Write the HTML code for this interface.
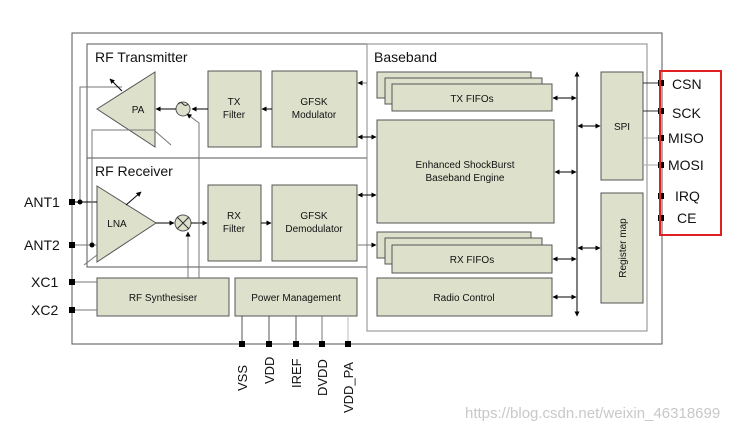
<!DOCTYPE html>
<html><head><meta charset="utf-8"><style>
body{margin:0;background:#fff}
svg{display:block}
text{font-family:"Liberation Sans",Arial,sans-serif;fill:#111}
</style></head><body>
<svg width="744" height="432" viewBox="0 0 744 432" xmlns="http://www.w3.org/2000/svg">
<defs>
<marker id="a" viewBox="0 0 10 10" refX="9" refY="5" markerWidth="5" markerHeight="5" orient="auto-start-reverse"><path d="M0,0L10,5L0,10z" fill="#000"/></marker>
</defs>
<rect width="744" height="432" fill="#fff"/>
<!-- outer -->
<rect x="72" y="33" width="590" height="311" fill="none" stroke="#555" stroke-width="1"/>
<rect x="87" y="44" width="280" height="114" fill="none" stroke="#555"/>
<rect x="87" y="158" width="280" height="109" fill="none" stroke="#555"/>
<rect x="367" y="44" width="280" height="287" fill="none" stroke="#888"/>
<text x="95" y="62" font-size="14">RF Transmitter</text>
<text x="95" y="176" font-size="14">RF Receiver</text>
<text x="374" y="62" font-size="14">Baseband</text>
<g fill="#dde1cc" stroke="#555">
<rect x="208" y="71" width="53" height="76"/>
<rect x="272" y="71" width="85" height="76"/>
<rect x="208" y="185" width="53" height="76"/>
<rect x="272" y="185" width="85" height="76"/>
<rect x="97" y="278" width="132" height="38"/>
<rect x="235" y="278" width="122" height="38"/>
<polygon points="97,109 155,72 155,147"/>
<polygon points="97,186 97,262 156,223"/>
<circle cx="183" cy="109" r="7"/>
<circle cx="183" cy="223" r="8"/>
<rect x="377" y="72" width="154" height="26"/>
<rect x="385" y="78" width="157" height="26"/>
<rect x="392" y="84" width="160" height="27"/>
<rect x="377" y="120" width="177" height="103"/>
<rect x="377" y="232" width="154" height="26"/>
<rect x="385" y="238" width="157" height="26"/>
<rect x="392" y="245" width="160" height="28"/>
<rect x="377" y="278" width="175" height="38"/>
<rect x="601" y="72" width="42" height="108"/>
<rect x="601" y="193" width="42" height="110"/>
</g>
<path d="M178,104 q2.5,-3 5,0 t5,0" fill="none" stroke="#333"/>
<path d="M177,217 L189,229 M189,217 L177,229" stroke="#333"/>
<g font-size="10" text-anchor="middle">
<text x="138" y="113">PA</text>
<text x="117" y="227">LNA</text>
<text x="234" y="105">TX</text><text x="234" y="118">Filter</text>
<text x="314" y="105">GFSK</text><text x="314" y="118">Modulator</text>
<text x="234" y="219">RX</text><text x="234" y="232">Filter</text>
<text x="314" y="219">GFSK</text><text x="314" y="232">Demodulator</text>
<text x="163" y="301">RF Synthesiser</text>
<text x="296" y="301">Power Management</text>
<text x="472" y="102">TX FIFOs</text>
<text x="465" y="168">Enhanced ShockBurst</text>
<text x="465" y="181">Baseband Engine</text>
<text x="472" y="263">RX FIFOs</text>
<text x="464" y="301">Radio Control</text>
<text x="622" y="130">SPI</text>
<text transform="translate(626,248) rotate(-90)">Register map</text>
</g>
<!-- signal arrows -->
<g stroke="#000" fill="none">
<line x1="208" y1="109" x2="192" y2="109" marker-end="url(#a)"/>
<line x1="272" y1="109" x2="262" y2="109" marker-end="url(#a)"/>
<line x1="176" y1="109" x2="156" y2="109" marker-end="url(#a)"/>
<line x1="156" y1="223" x2="174" y2="223" marker-end="url(#a)"/>
<line x1="191" y1="223" x2="207" y2="223" marker-end="url(#a)"/>
<line x1="261" y1="223" x2="271" y2="223" marker-end="url(#a)"/>
<line x1="367" y1="83" x2="358" y2="83" stroke="#777" marker-end="url(#a)"/>
<line x1="367" y1="137" x2="358" y2="137" marker-end="url(#a)"/>
<line x1="360" y1="137" x2="376" y2="137" marker-end="url(#a)"/>
<line x1="358" y1="195" x2="376" y2="195" marker-end="url(#a)" marker-start="url(#a)"/>
<line x1="358" y1="245" x2="376" y2="245" stroke="#777" marker-end="url(#a)"/>
<line x1="577" y1="72" x2="577" y2="316" marker-end="url(#a)" marker-start="url(#a)"/>
<line x1="553" y1="98" x2="576" y2="98" marker-end="url(#a)" marker-start="url(#a)"/>
<line x1="555" y1="172" x2="576" y2="172" marker-end="url(#a)" marker-start="url(#a)"/>
<line x1="553" y1="259" x2="576" y2="259" marker-end="url(#a)" marker-start="url(#a)"/>
<line x1="553" y1="297" x2="576" y2="297" marker-end="url(#a)" marker-start="url(#a)"/>
<line x1="578" y1="126" x2="600" y2="126" marker-end="url(#a)" marker-start="url(#a)"/>
<line x1="578" y1="248" x2="600" y2="248" marker-end="url(#a)" marker-start="url(#a)"/>
<!-- synth lines -->
<polyline points="188,278 188,232" stroke="#777" marker-end="url(#a)"/>
<polyline points="199,278 199,123 187,114" stroke="#777" marker-end="url(#a)"/>
<!-- antenna wiring -->
<line x1="72" y1="202" x2="97" y2="202"/>
<polyline points="80,202 80,87 122,87" stroke="#777"/>
<line x1="122" y1="91" x2="110" y2="79" marker-end="url(#a)"/>
<line x1="72" y1="245" x2="97" y2="245" stroke="#777"/>
<polyline points="92,245 92,130 155,130" stroke="#777"/>
<line x1="155" y1="131" x2="171" y2="145" stroke="#777"/>
<line x1="97" y1="255" x2="84" y2="265" stroke="#777"/>
<line x1="126" y1="205" x2="141" y2="192" marker-end="url(#a)"/>
<line x1="72" y1="282" x2="97" y2="282" stroke="#777"/>
<line x1="72" y1="310" x2="97" y2="310" stroke="#777"/>
<!-- pm pins -->
<line x1="242" y1="316" x2="242" y2="344" stroke="#555"/>
<line x1="269" y1="316" x2="269" y2="344" stroke="#555"/>
<line x1="296" y1="316" x2="296" y2="344" stroke="#555"/>
<line x1="322" y1="316" x2="322" y2="344" stroke="#777"/>
<line x1="348" y1="316" x2="348" y2="344" stroke="#bbb"/>
<!-- spi pins -->
<line x1="643" y1="83" x2="661" y2="83" stroke="#333"/>
<line x1="643" y1="111" x2="661" y2="111" stroke="#333"/>
<line x1="643" y1="138" x2="661" y2="138" stroke="#aaa"/>
<line x1="643" y1="165" x2="661" y2="165" stroke="#aaa"/>
</g>
<circle cx="80" cy="202" r="2.5" fill="#000"/>
<circle cx="92" cy="245" r="2.5" fill="#000"/>
<g fill="#000">
<rect x="69" y="199" width="6" height="6"/><rect x="69" y="242" width="6" height="6"/>
<rect x="69" y="279" width="6" height="6"/><rect x="69" y="307" width="6" height="6"/>
<rect x="239" y="341" width="6" height="6"/><rect x="266" y="341" width="6" height="6"/>
<rect x="293" y="341" width="6" height="6"/><rect x="319" y="341" width="6" height="6"/>
<rect x="345" y="341" width="6" height="6"/>
<rect x="658" y="80" width="6" height="6"/><rect x="658" y="108" width="6" height="6"/>
<rect x="658" y="135" width="6" height="6"/><rect x="658" y="162" width="6" height="6"/>
<rect x="658" y="193" width="6" height="6"/><rect x="658" y="215" width="6" height="6"/>
</g>
<rect x="660" y="71" width="61" height="164" fill="none" stroke="#e02020" stroke-width="2"/>
<g font-size="14">
<text x="24" y="207">ANT1</text><text x="24" y="250">ANT2</text>
<text x="31" y="287">XC1</text><text x="31" y="315">XC2</text>
<text x="672" y="89">CSN</text><text x="672" y="118">SCK</text>
<text x="668" y="143">MISO</text><text x="668" y="170">MOSI</text>
<text x="675" y="201">IRQ</text><text x="677" y="223">CE</text>
</g>
<g font-size="13">
<text transform="translate(247,391) rotate(-90)">VSS</text>
<text transform="translate(274,384) rotate(-90)">VDD</text>
<text transform="translate(301,388) rotate(-90)">IREF</text>
<text transform="translate(327,396) rotate(-90)">DVDD</text>
<text transform="translate(353,413) rotate(-90)">VDD_PA</text>
</g>
<text x="465" y="418" font-size="15" style="fill:#c8c8c8">https://blog.csdn.net/weixin_46318699</text>
</svg>
</body></html>
